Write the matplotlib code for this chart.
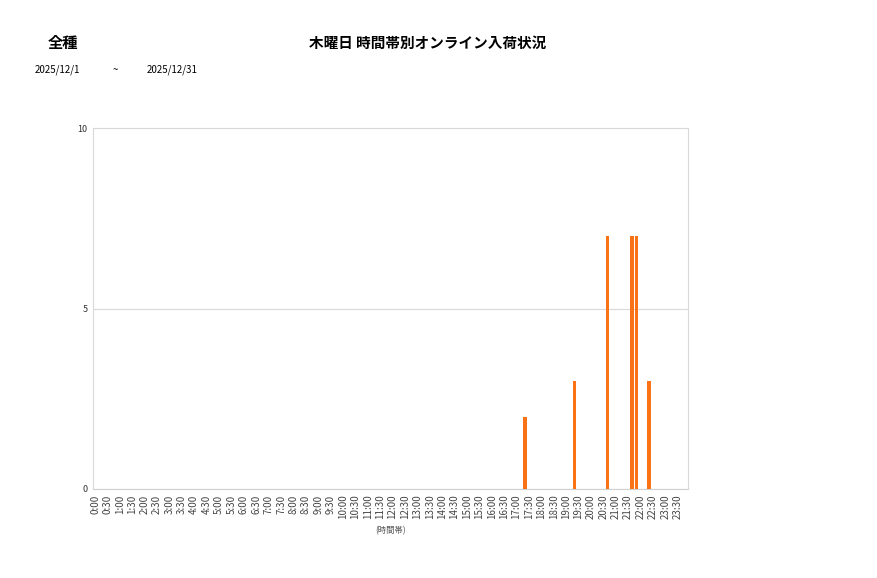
import matplotlib
matplotlib.use("Agg")
import matplotlib.pyplot as plt
import numpy as np

plt.rcParams['font.family'] = ['Noto Sans CJK JP', 'DejaVu Sans']

# 10-minute time slots over the day
slot_labels = [f"{h}:{m:02d}" for h in range(24) for m in range(0, 60, 10)]
tick_labels = [f"{h}:{m:02d}" for h in range(24) for m in (0, 30)]

# non-zero counts
event_slots = ["17:20", "19:20", "20:40", "21:40", "21:50", "22:20"]
event_counts = [2, 3, 7, 7, 7, 3]

counts = [0] * len(slot_labels)
for s, c in zip(event_slots, event_counts):
    counts[slot_labels.index(s)] = c

fig = plt.figure(figsize=(8.77, 5.78), dpi=100)
ax = fig.add_axes([93/877, 1-489/578, 595/877, 361/578])

x = np.arange(len(slot_labels))
ax.bar(x, counts, width=0.85, color='#f97316', zorder=3)

ax.set_xlim(-0.5, len(slot_labels) - 0.5)
ax.set_ylim(0, 10)
ax.set_yticks([0, 5, 10])
ax.set_yticklabels(['0', '5', '10'], fontsize=6.5, color='#333333')
tick_pos = [slot_labels.index(t) for t in tick_labels]
ax.set_xticks(tick_pos)
ax.set_xticklabels(tick_labels, rotation=90, fontsize=7, color='#444444')
ax.tick_params(length=0, pad=4)
ax.grid(axis='y', color='#d9d9d9', linewidth=0.8, zorder=0)
for sp in ax.spines.values():
    sp.set_color('#d9d9d9')
    sp.set_linewidth(0.8)
ax.spines['bottom'].set_color('#d0d0d0')

ax.set_xlabel('(時間帯)', fontsize=6, color='#555555', labelpad=5)

fig.text(63/877, 1-43/578, '全種', fontsize=11, fontweight='bold', ha='center', va='center')
fig.text(428/877, 1-43/578, '木曜日 時間帯別オンライン入荷状況', fontsize=10.5, fontweight='bold',
         ha='center', va='center')
fig.text(57/877, 1-70/578, '2025/12/1', fontsize=7, ha='center', va='center')
fig.text(115/877, 1-70/578, '~', fontsize=7, ha='center', va='center')
fig.text(172/877, 1-70/578, '2025/12/31', fontsize=7, ha='center', va='center')

fig.savefig('out.png', dpi=100, facecolor='white')
